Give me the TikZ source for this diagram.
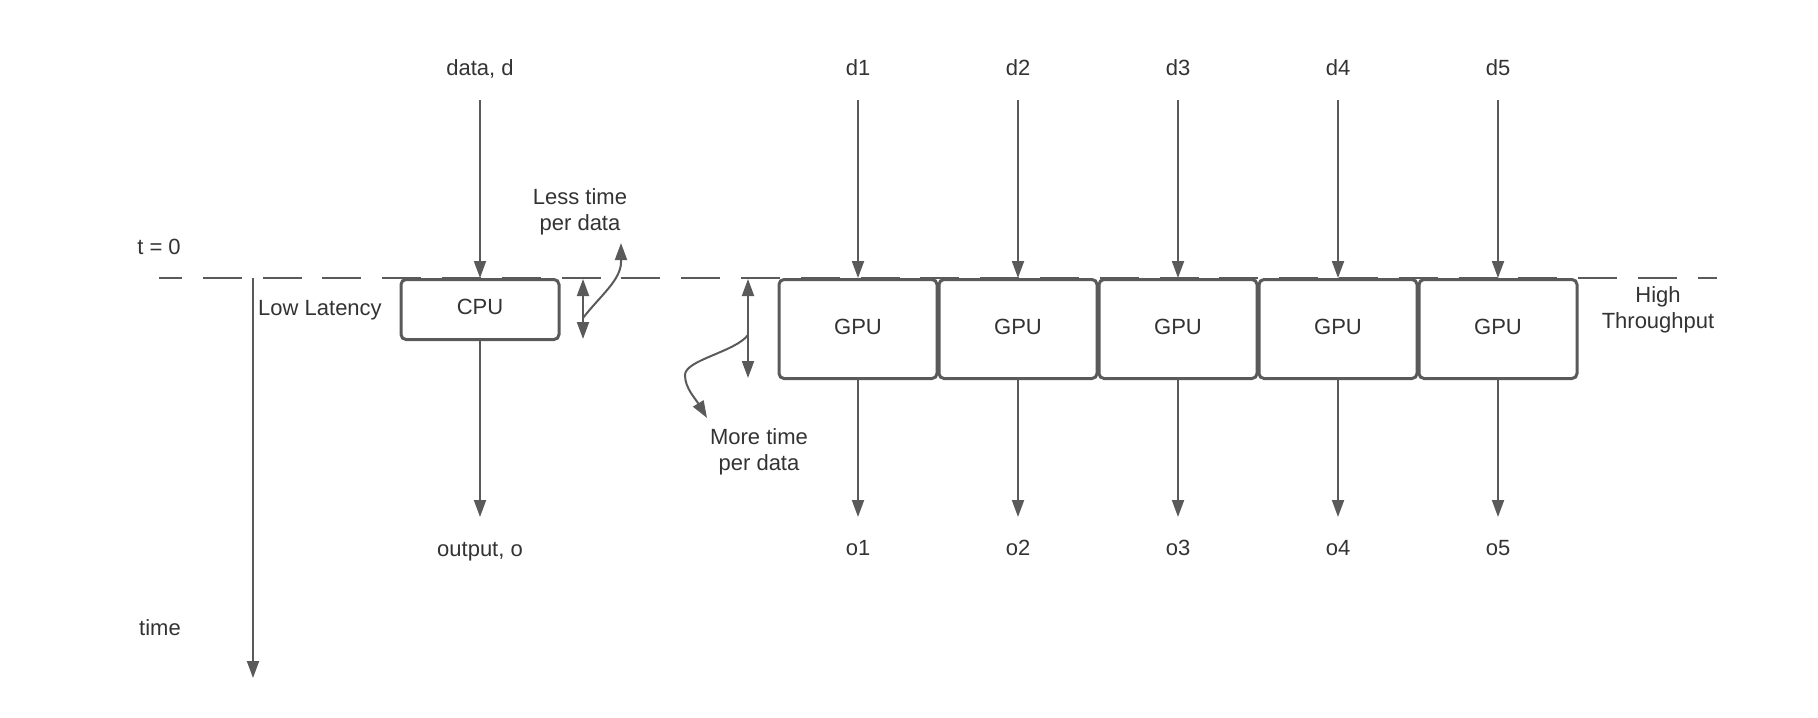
\documentclass[tikz,border=0pt]{standalone}
\usepackage{fontspec}
\setmainfont{Liberation Sans}
\usetikzlibrary{arrows.meta}
\definecolor{lc}{HTML}{5A5A5A}
\definecolor{tc}{HTML}{333333}
\begin{document}
\begin{tikzpicture}[x=0.5pt,y=-0.5pt,
  lbl/.style={font=\fontsize{11}{13}\selectfont, text=tc, inner sep=0pt, align=center},
  arr/.style={draw=lc, line width=1pt, -{Triangle[length=8.5pt,width=6pt]}},
  darr/.style={draw=lc, line width=1pt, {Triangle[length=8.5pt,width=6pt]}-{Triangle[length=8.5pt,width=6pt]}},
  unit/.style={draw=lc, line width=1.5pt, rounded corners=2.5pt, minimum width=79pt, inner sep=0pt, fill=white,
               font=\fontsize{11}{13}\selectfont, text=tc, text depth=2.3pt},
  tline/.style={draw=lc, line width=1pt, dash pattern=on 19.5pt off 10.4pt, dash phase=8pt}
]
\useasboundingbox (0,0) rectangle (1818,717);

% t = 0 dashed line
\coordinate (tl) at (159,278);
\coordinate (tr) at (1717,278);
\draw[tline] (tl) -- (tr);

% boxes
\node[unit, minimum height=30pt] (cpu) at (480,309.5) {CPU};
\foreach \i/\x in {1/858,2/1018,3/1178,4/1338,5/1498}{
  \node[unit, minimum height=49.5pt] (g\i) at (\x,329) {GPU};
}

% labels
\node[lbl] (dd) at (480,69) {data, d};
\node[lbl] (oo) at (480,551.5) {output, o};
\coordinate (ddin) at (480,100);
\coordinate (ooout) at (480,517);
\draw[arr] (ddin) -- (cpu.north);
\draw[arr] (cpu.south) -- (ooout);

\foreach \i/\x in {1/858,2/1018,3/1178,4/1338,5/1498}{
  \node[lbl] (d\i) at (\x,68) {d\i};
  \node[lbl] (o\i) at (\x,548) {o\i};
  \coordinate (din\i) at (\x,100);
  \coordinate (oout\i) at (\x,517);
  \draw[arr] (din\i) -- (g\i.north);
  \draw[arr] (g\i.south) -- (oout\i);
}

% time axis
\node[lbl] (t0) at (159,247) {t = 0};
\node[lbl] (time) at (160,628) {time};
\coordinate (ttop) at (253,278);
\coordinate (tbot) at (253,678);
\draw[arr] (ttop) -- (tbot);
\node[lbl] (low) at (320,310.5) {Low Latency};
\node[lbl] (high) at (1658,309.5) {High\\Throughput};

% less time per data
\coordinate (lt) at (583,279);
\coordinate (lb) at (583,339);
\draw[darr] (lt) -- (lb);
\coordinate (lmid) at (583,318);
\node[lbl] (less) at (580,211.5) {Less time\\per data};
\coordinate (ltip) at (621,243);
\draw[arr] (lmid) .. controls (600,296) and (621,280) .. (621,262) -- (ltip);

% more time per data
\coordinate (mt) at (748,279);
\coordinate (mb) at (748,378);
\draw[darr] (mt) -- (mb);
\coordinate (mmid) at (748,335);
\node[lbl] (more) at (759,451.5) {More time\\per data};
\coordinate (mtip) at (707,418);
\draw[arr] (mmid) .. controls (735,352) and (685,360) .. (685,375) .. controls (685,388) and (695,398) .. (mtip);
\end{tikzpicture}
\end{document}
